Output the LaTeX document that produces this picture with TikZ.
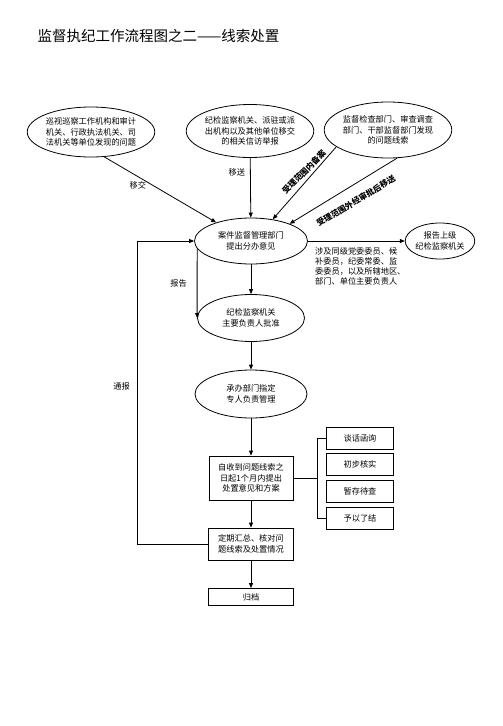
\documentclass[tikz,border=0pt]{standalone}
\usepackage{fontspec}
\setmainfont{Noto Sans CJK SC}
\usepackage{tikz}
\usetikzlibrary{shapes,arrows.meta,positioning,calc}

\begin{document}
\begin{tikzpicture}[
    x=1pt, y=-1pt,
    node distance=4pt,
    el/.style={ellipse, draw, line width=0.8pt, inner sep=0pt, align=center, font=\fontsize{8.2}{10.5}\selectfont},
    bx/.style={rectangle, draw, line width=0.8pt, inner sep=0pt, align=center, font=\fontsize{8.2}{10.5}\selectfont},
    ob/.style={bx, minimum width=67pt, minimum height=22pt},
    lab/.style={font=\fontsize{8.2}{10}\selectfont, inner sep=1pt},
    tag/.style={font=\fontsize{8.2}{10}\selectfont\bfseries, inner sep=0pt},
    arr/.style={-{Triangle[length=5pt,width=4pt]}, line width=0.8pt}
]
    \useasboundingbox (0,0) rectangle (503,726);
    \node [anchor=west, font=\fontsize{14.5}{16}\selectfont] (t) at (34,36) {监督执纪工作流程图之二——线索处置};

    \node [el, minimum width=112pt, minimum height=50pt] (n1) at (91,132) {巡视巡察工作机构和审计\\机关、行政执法机关、司\\法机关等单位发现的问题};
    \node [el, minimum width=110pt, minimum height=53pt] (n2) at (250,131) {纪检监察机关、派驻或派\\出机构以及其他单位移交\\的相关信访举报};
    \node [el, minimum width=106pt, minimum height=56pt] (n3) at (388,130) {监督检查部门、审查调查\\部门、干部监督部门发现\\的问题线索};
    \node [el, minimum width=113pt, minimum height=46pt] (n4) at (251,241) {案件监督管理部门\\提出分办意见};
    \node [el, minimum width=68pt, minimum height=36pt] (n5) at (440,241) {报告上级\\纪检监察机关};
    \node [lab, anchor=west, align=left] (nt) at (314,266) {涉及同级党委委员、候\\补委员，纪委常委、监\\委委员，以及所辖地区、\\部门、单位主要负责人};
    \node [el, minimum width=107pt, minimum height=47pt] (n6) at (251,318) {纪检监察机关\\主要负责人批准};
    \node [el, minimum width=112pt, minimum height=48pt] (n7) at (251,394) {承办部门指定\\专人负责管理};
    \node [bx, minimum width=84pt, minimum height=44pt] (n8) at (251,478) {自收到问题线索之\\日起1个月内提出\\处置意见和方案};
    \node [bx, minimum width=85pt, minimum height=32pt] (n9) at (251,544) {定期汇总、核对问\\题线索及处置情况};
    \node [bx, minimum width=85pt, minimum height=17pt] (n10) at (251,597) {归档};

    \node [ob] (o1) at (360,438) {谈话函询};
    \node [ob, below=of o1] (o2) {初步核实};
    \node [ob, below=of o2] (o3) {暂存待查};
    \node [ob, below=of o3] (o4) {予以了结};

    \node [tag, rotate=45] (g1) at (304,172) {受理范围内备案};
    \node [tag, rotate=31] (g2) at (356,201) {受理范围外经审批后移送};

    \draw [arr] (n1.-62) -- node [lab, pos=0.3, below=4pt] (l1) {移交} (n4.152);
    \draw [arr] (n2) -- node [lab, pos=0.24, left=4pt] (l2) {移送} (n4);
    \draw [arr] (n3.198) -- (n4.45);
    \draw [arr] (n3.-72) -- (n4.24);
    \draw [arr] (n4) -- (n5);
    \draw [arr] (n4) -- (n6);
    \draw [arr] (n4.188) -- node [lab, midway, left=9pt] (l3) {报告} (n6.west);
    \draw [arr] (n6) -- (n7);
    \draw [arr] (n7) -- (n8);
    \draw [arr] (n8) -- (n9);
    \draw [arr] (n9) -- (n10);
    \draw [arr] (n9.west) -- ++(-71,0) |- node [lab, pos=0.26, left=6pt] (l4) {通报} (n4.west);

    \draw [line width=0.8pt] (o1.west) -- ++(-9,0) coordinate (brk) |- (o4.west);
    \draw [line width=0.8pt] (n8.east) -- (n8.east -| brk);
\end{tikzpicture}
\end{document}
